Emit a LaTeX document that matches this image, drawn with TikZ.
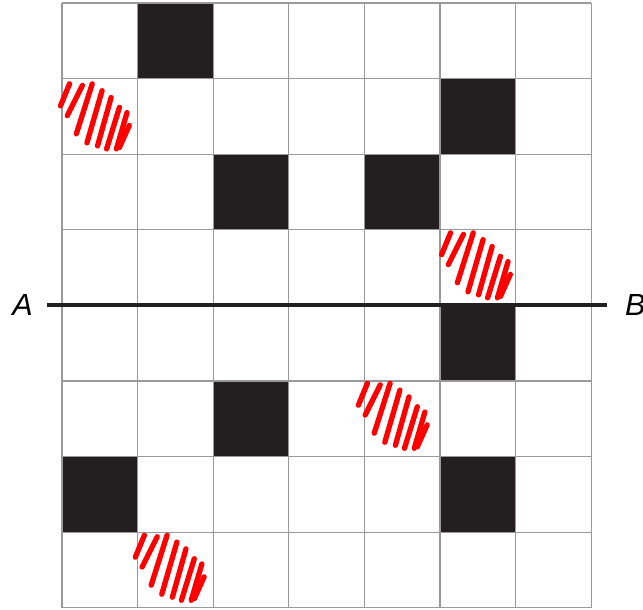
\documentclass[tikz,border=0pt]{standalone}
\usepackage{tikz}
\usepackage{fontspec}
\setmainfont{Liberation Sans}

\definecolor{cellblack}{HTML}{231F20}
\definecolor{gridgray}{HTML}{9A9A9A}

\tikzset{
    gridline/.style={draw=gridgray, line width=0.45pt},
    filledcell/.style={fill=cellblack},
    cutline/.style={draw=cellblack, line width=1.5pt},
    endlabel/.style={font=\fontsize{11.5}{14}\selectfont\itshape, inner sep=0pt},
    redmark/.style={draw=red, line width=2pt, line cap=round},
    scribble/.pic={
        \foreach \xa/\ya/\xb/\yb in {-0.34/0.42/-0.46/0.13, -0.17/0.40/-0.37/0,
                -0.04/0.42/-0.25/-0.24, 0.09/0.33/-0.11/-0.36, 0.21/0.24/0.03/-0.40,
                0.32/0.11/0.15/-0.44, 0.42/0.04/0.28/-0.44, 0.45/-0.13/0.32/-0.42}
            \draw[redmark] (\xa,\ya) -- (\xb,\yb);
    }
}

\begin{document}
\begin{tikzpicture}
    \useasboundingbox (-0.820,-0.026) rectangle (7.685,8.040);

    % Draw the black cells
    \foreach \col/\row in {1/7, 5/6, 2/5, 4/5, 5/3, 2/2, 0/1, 5/1}
        \fill[filledcell] (\col,\row) rectangle ++(1,1);

    % Draw the grid
    \draw[gridline] (0,0) grid (7,8);

    % Draw the line from A to B
    \coordinate (lineA) at (-0.20,4);
    \coordinate (lineB) at (7.21,4);
    \draw[cutline] (lineA) -- (lineB);
    \node[endlabel, anchor=east] (labA) at (-0.38,4) {A};
    \node[endlabel, anchor=west] (labB) at (7.44,4) {B};

    % Draw the red marks
    \pic at (0.44,6.51) {scribble};
    \pic at (5.48,4.54) {scribble};
    \pic at (4.38,2.55) {scribble};
    \pic at (1.43,0.54) {scribble};
\end{tikzpicture}
\end{document}
